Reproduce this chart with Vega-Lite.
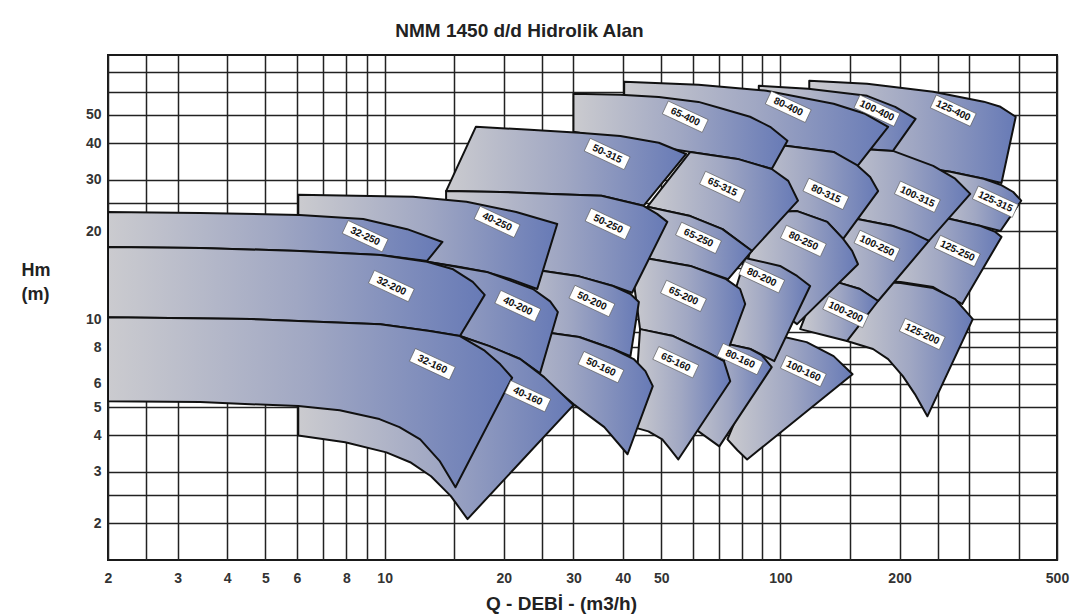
{
"$schema":"https://vega.github.io/schema/vega-lite/v6.json",
"width":949,"height":505,
"autosize":{"type":"none"},
"padding":{"left":108,"top":55,"right":16,"bottom":56},
"background":"#ffffff",
"config":{"view":{"stroke":"#1a1a1a","strokeWidth":2},"font":"Liberation Sans"},
"title":{"text":"NMM 1450 d/d Hidrolik Alan","fontSize":19,"fontWeight":"bold","color":"#222222","font":"Liberation Sans","anchor":"middle","frame":"group","dx":-63,"offset":-1,"baseline":"alphabetic"},
"datasets":{
"shapes":[
{"k":"s01","i":0,"q":118.3,"h":65.3},{"k":"s01","i":1,"q":165.6,"h":63.8},{"k":"s01","i":2,"q":243.3,"h":59.9},{"k":"s01","i":3,"q":326.4,"h":55.4},{"k":"s01","i":4,"q":359.8,"h":53.2},{"k":"s01","i":5,"q":393.3,"h":49.2},{"k":"s01","i":6,"q":362,"h":29.2},{"k":"s01","i":7,"q":326.4,"h":30.2},{"k":"s01","i":8,"q":268.7,"h":31.9},{"k":"s01","i":9,"q":201.3,"h":33.9},{"k":"s01","i":10,"q":118.3,"h":35.3},
{"k":"s02","i":0,"q":238.4,"h":32.6},{"k":"s02","i":1,"q":268.7,"h":31.9},{"k":"s02","i":2,"q":326.4,"h":30.2},{"k":"s02","i":3,"q":359.8,"h":28.8},{"k":"s02","i":4,"q":387.6,"h":27.2},{"k":"s02","i":5,"q":406,"h":25.4},{"k":"s02","i":6,"q":359.8,"h":20.0},{"k":"s02","i":7,"q":320.8,"h":20.8},{"k":"s02","i":8,"q":268.7,"h":22.0},{"k":"s02","i":9,"q":238.4,"h":22.5},
{"k":"s03","i":0,"q":238.4,"h":22.5},{"k":"s03","i":1,"q":268.7,"h":22.0},{"k":"s03","i":2,"q":320.8,"h":20.8},{"k":"s03","i":3,"q":349.2,"h":19.86},{"k":"s03","i":4,"q":362,"h":19.1},{"k":"s03","i":5,"q":288.1,"h":11.26},{"k":"s03","i":6,"q":243.3,"h":12.87},{"k":"s03","i":7,"q":201.3,"h":13.38},{"k":"s03","i":8,"q":178.3,"h":13.5},
{"k":"s04","i":0,"q":178.3,"h":13.38},{"k":"s04","i":1,"q":201.3,"h":13.29},{"k":"s04","i":2,"q":243.3,"h":12.77},{"k":"s04","i":3,"q":276.5,"h":11.7},{"k":"s04","i":4,"q":306.3,"h":10.0},{"k":"s04","i":5,"q":235.2,"h":4.65},{"k":"s04","i":6,"q":218.7,"h":5.54},{"k":"s04","i":7,"q":203.9,"h":6.38},{"k":"s04","i":8,"q":187.2,"h":7.3},{"k":"s04","i":9,"q":171.4,"h":7.9},{"k":"s04","i":10,"q":147.3,"h":8.41},
{"k":"s05","i":0,"q":88.2,"h":62.8},{"k":"s05","i":1,"q":117.6,"h":61.3},{"k":"s05","i":2,"q":165.6,"h":58.0},{"k":"s05","i":3,"q":195,"h":53.2},{"k":"s05","i":4,"q":219.6,"h":48.4},{"k":"s05","i":5,"q":192.5,"h":37.6},{"k":"s05","i":6,"q":158.9,"h":38.2},{"k":"s05","i":7,"q":109.1,"h":39.8},{"k":"s05","i":8,"q":88.2,"h":40.4},
{"k":"s06","i":0,"q":157.1,"h":38.2},{"k":"s06","i":1,"q":192.5,"h":37.6},{"k":"s06","i":2,"q":243.3,"h":33.4},{"k":"s06","i":3,"q":276.5,"h":30.2},{"k":"s06","i":4,"q":301.9,"h":26.8},{"k":"s06","i":5,"q":237.3,"h":18.5},{"k":"s06","i":6,"q":192.5,"h":20.8},{"k":"s06","i":7,"q":156.4,"h":22.0},{"k":"s06","i":8,"q":133.6,"h":22.5},
{"k":"s07","i":0,"q":133.6,"h":22.5},{"k":"s07","i":1,"q":156.4,"h":22.0},{"k":"s07","i":2,"q":192.5,"h":20.8},{"k":"s07","i":3,"q":212.9,"h":19.86},{"k":"s07","i":4,"q":237.3,"h":18.5},{"k":"s07","i":5,"q":176.6,"h":11.53},{"k":"s07","i":6,"q":158.9,"h":12.67},{"k":"s07","i":7,"q":139.1,"h":13.38},{"k":"s07","i":8,"q":125.6,"h":13.7},
{"k":"s08","i":0,"q":125.6,"h":13.7},{"k":"s08","i":1,"q":139.1,"h":13.38},{"k":"s08","i":2,"q":158.9,"h":12.67},{"k":"s08","i":3,"q":176.6,"h":11.53},{"k":"s08","i":4,"q":147.3,"h":8.41},{"k":"s08","i":5,"q":131.3,"h":8.75},{"k":"s08","i":6,"q":112.2,"h":9.24},
{"k":"s09","i":0,"q":89.7,"h":8.68},{"k":"s09","i":1,"q":99.8,"h":8.75},{"k":"s09","i":2,"q":116.5,"h":8.34},{"k":"s09","i":3,"q":136.3,"h":7.47},{"k":"s09","i":4,"q":152.2,"h":6.48},{"k":"s09","i":5,"q":82.4,"h":3.31},{"k":"s09","i":6,"q":77.9,"h":3.56},{"k":"s09","i":7,"q":73.5,"h":3.88},{"k":"s09","i":8,"q":87.1,"h":6.74},
{"k":"s10","i":0,"q":40.3,"h":64.8},{"k":"s10","i":1,"q":62.1,"h":63.3},{"k":"s10","i":2,"q":92.2,"h":60.4},{"k":"s10","i":3,"q":136.3,"h":54.5},{"k":"s10","i":4,"q":163.7,"h":50.35},{"k":"s10","i":5,"q":187.2,"h":45.45},{"k":"s10","i":6,"q":155.8,"h":33.1},{"k":"s10","i":7,"q":136.3,"h":37.3},{"k":"s10","i":8,"q":104.2,"h":39.1},{"k":"s10","i":9,"q":79.1,"h":40.4},{"k":"s10","i":10,"q":40.3,"h":42.3},
{"k":"s11","i":0,"q":79.1,"h":40.4},{"k":"s11","i":1,"q":104.2,"h":39.1},{"k":"s11","i":2,"q":136.3,"h":37.3},{"k":"s11","i":3,"q":155.8,"h":33.7},{"k":"s11","i":4,"q":168.6,"h":30.6},{"k":"s11","i":5,"q":176.6,"h":27.4},{"k":"s11","i":6,"q":144.1,"h":18.8},{"k":"s11","i":7,"q":131.3,"h":21.5},{"k":"s11","i":8,"q":110.2,"h":23.4},{"k":"s11","i":9,"q":88.2,"h":22.9},
{"k":"s12","i":0,"q":88.2,"h":23.07},{"k":"s12","i":1,"q":110.2,"h":23.4},{"k":"s12","i":2,"q":131.3,"h":21.5},{"k":"s12","i":3,"q":144.1,"h":18.8},{"k":"s12","i":4,"q":151.8,"h":17.1},{"k":"s12","i":5,"q":157.1,"h":15.4},{"k":"s12","i":6,"q":110.2,"h":9.61},{"k":"s12","i":7,"q":94.2,"h":11.26},{"k":"s12","i":8,"q":79.1,"h":12.18},
{"k":"s13","i":0,"q":81.5,"h":16.18},{"k":"s13","i":1,"q":99.8,"h":15.2},{"k":"s13","i":2,"q":110.2,"h":14.04},{"k":"s13","i":3,"q":118.9,"h":12.97},{"k":"s13","i":4,"q":96.5,"h":7.18},{"k":"s13","i":5,"q":84.0,"h":7.9},{"k":"s13","i":6,"q":70.1,"h":8.34},
{"k":"s14","i":0,"q":70.1,"h":8.34},{"k":"s14","i":1,"q":84.0,"h":7.9},{"k":"s14","i":2,"q":89.7,"h":7.53},{"k":"s14","i":3,"q":95.1,"h":6.85},{"k":"s14","i":4,"q":70.1,"h":3.67},{"k":"s14","i":5,"q":62.1,"h":4.13},{"k":"s14","i":6,"q":57.5,"h":4.55},{"k":"s14","i":7,"q":62.1,"h":8.54},
{"k":"s15","i":0,"q":30.0,"h":58.96},{"k":"s15","i":1,"q":39.4,"h":58.5},{"k":"s15","i":2,"q":49.3,"h":57.5},{"k":"s15","i":3,"q":62.1,"h":55.3},{"k":"s15","i":4,"q":71.4,"h":52.4},{"k":"s15","i":5,"q":83.8,"h":49.2},{"k":"s15","i":6,"q":94.2,"h":45.45},{"k":"s15","i":7,"q":104.2,"h":40.7},{"k":"s15","i":8,"q":95.1,"h":32.6},{"k":"s15","i":9,"q":77.9,"h":35.3},{"k":"s15","i":10,"q":59.2,"h":37.3},{"k":"s15","i":11,"q":44.2,"h":39.76},{"k":"s15","i":12,"q":30.0,"h":43.7},
{"k":"s16","i":0,"q":59.2,"h":37.3},{"k":"s16","i":1,"q":77.9,"h":35.3},{"k":"s16","i":2,"q":95.1,"h":32.6},{"k":"s16","i":3,"q":104.7,"h":29.7},{"k":"s16","i":4,"q":110.8,"h":25.4},{"k":"s16","i":5,"q":84.8,"h":17.1},{"k":"s16","i":6,"q":71.4,"h":20.3},{"k":"s16","i":7,"q":59.2,"h":22.5},{"k":"s16","i":8,"q":46.1,"h":24.2},
{"k":"s17","i":0,"q":46.1,"h":24.2},{"k":"s17","i":1,"q":59.2,"h":22.5},{"k":"s17","i":2,"q":71.4,"h":20.3},{"k":"s17","i":3,"q":84.8,"h":17.1},{"k":"s17","i":4,"q":73.8,"h":13.7},{"k":"s17","i":5,"q":59.2,"h":15.2},{"k":"s17","i":6,"q":47.0,"h":16.05},{"k":"s17","i":7,"q":41.8,"h":16.3},
{"k":"s18","i":0,"q":41.8,"h":16.3},{"k":"s18","i":1,"q":47.0,"h":16.05},{"k":"s18","i":2,"q":59.2,"h":15.2},{"k":"s18","i":3,"q":72.9,"h":13.7},{"k":"s18","i":4,"q":79.1,"h":12.67},{"k":"s18","i":5,"q":81.5,"h":11.26},{"k":"s18","i":6,"q":72.0,"h":7.18},{"k":"s18","i":7,"q":65.3,"h":7.71},{"k":"s18","i":8,"q":53.6,"h":8.75},{"k":"s18","i":9,"q":44.2,"h":9.24},
{"k":"s19","i":0,"q":44.2,"h":9.24},{"k":"s19","i":1,"q":53.6,"h":8.75},{"k":"s19","i":2,"q":65.3,"h":7.71},{"k":"s19","i":3,"q":72.0,"h":7.18},{"k":"s19","i":4,"q":74.7,"h":6.13},{"k":"s19","i":5,"q":55.2,"h":3.31},{"k":"s19","i":6,"q":52.5,"h":3.61},{"k":"s19","i":7,"q":50.3,"h":3.88},{"k":"s19","i":8,"q":46.4,"h":4.13},{"k":"s19","i":9,"q":42.5,"h":4.27},
{"k":"s20","i":0,"q":17.0,"h":45.45},{"k":"s20","i":1,"q":23.3,"h":44.4},{"k":"s20","i":2,"q":31.0,"h":43.4},{"k":"s20","i":3,"q":39.4,"h":42.3},{"k":"s20","i":4,"q":49.3,"h":40.1},{"k":"s20","i":5,"q":57.8,"h":36.7},{"k":"s20","i":6,"q":45.1,"h":24.4},{"k":"s20","i":7,"q":35.3,"h":26.4},{"k":"s20","i":8,"q":26.4,"h":26.8},{"k":"s20","i":9,"q":19.6,"h":27.2},{"k":"s20","i":10,"q":14.3,"h":27.4},
{"k":"s21","i":0,"q":14.3,"h":27.4},{"k":"s21","i":1,"q":19.6,"h":27.2},{"k":"s21","i":2,"q":26.4,"h":26.8},{"k":"s21","i":3,"q":35.3,"h":26.4},{"k":"s21","i":4,"q":45.1,"h":24.4},{"k":"s21","i":5,"q":48.8,"h":22.9},{"k":"s21","i":6,"q":51.8,"h":21.5},{"k":"s21","i":7,"q":42.2,"h":12.3},{"k":"s21","i":8,"q":37.8,"h":12.97},{"k":"s21","i":9,"q":31.0,"h":14.0},{"k":"s21","i":10,"q":25.2,"h":14.6},{"k":"s21","i":11,"q":19.6,"h":15.07},{"k":"s21","i":12,"q":14.3,"h":15.4},
{"k":"s22","i":0,"q":19.6,"h":15.07},{"k":"s22","i":1,"q":25.2,"h":14.6},{"k":"s22","i":2,"q":31.0,"h":14.0},{"k":"s22","i":3,"q":37.8,"h":12.97},{"k":"s22","i":4,"q":41.8,"h":12.18},{"k":"s22","i":5,"q":43.9,"h":11.44},{"k":"s22","i":6,"q":41.8,"h":7.47},{"k":"s22","i":7,"q":37.8,"h":7.9},{"k":"s22","i":8,"q":31.0,"h":8.68},{"k":"s22","i":9,"q":25.2,"h":9.03},{"k":"s22","i":10,"q":19.6,"h":9.24},
{"k":"s23","i":0,"q":19.6,"h":9.24},{"k":"s23","i":1,"q":25.2,"h":9.03},{"k":"s23","i":2,"q":31.0,"h":8.68},{"k":"s23","i":3,"q":37.8,"h":7.9},{"k":"s23","i":4,"q":42.6,"h":7.3},{"k":"s23","i":5,"q":45.6,"h":6.64},{"k":"s23","i":6,"q":47.6,"h":5.9},{"k":"s23","i":7,"q":41.1,"h":3.45},{"k":"s23","i":8,"q":35.9,"h":4.27},{"k":"s23","i":9,"q":30.0,"h":5.12},{"k":"s23","i":10,"q":25.3,"h":6.23},{"k":"s23","i":11,"q":21.4,"h":7.18},{"k":"s23","i":12,"q":17.4,"h":8.21},
{"k":"s24","i":0,"q":6.05,"h":26.6},{"k":"s24","i":1,"q":11.8,"h":26.2},{"k":"s24","i":2,"q":16.1,"h":25.2},{"k":"s24","i":3,"q":21.5,"h":23.25},{"k":"s24","i":4,"q":27.3,"h":21.15},{"k":"s24","i":5,"q":24.3,"h":12.67},{"k":"s24","i":6,"q":20.8,"h":13.7},{"k":"s24","i":7,"q":18.1,"h":14.5},{"k":"s24","i":8,"q":15.5,"h":15.07},{"k":"s24","i":9,"q":12.8,"h":15.7},{"k":"s24","i":10,"q":9.75,"h":16.57},{"k":"s24","i":11,"q":6.05,"h":17.1},
{"k":"s25","i":0,"q":6.05,"h":17.1},{"k":"s25","i":1,"q":9.75,"h":16.57},{"k":"s25","i":2,"q":12.8,"h":15.7},{"k":"s25","i":3,"q":18.1,"h":14.5},{"k":"s25","i":4,"q":23.7,"h":12.67},{"k":"s25","i":5,"q":26.2,"h":11.5},{"k":"s25","i":6,"q":27.4,"h":10.57},{"k":"s25","i":7,"q":24.7,"h":6.53},{"k":"s25","i":8,"q":22.0,"h":7.3},{"k":"s25","i":9,"q":18.4,"h":8.08},{"k":"s25","i":10,"q":15.5,"h":8.75},{"k":"s25","i":11,"q":9.75,"h":9.54},{"k":"s25","i":12,"q":6.05,"h":9.84},
{"k":"s26","i":0,"q":6.05,"h":9.84},{"k":"s26","i":1,"q":9.75,"h":9.54},{"k":"s26","i":2,"q":15.5,"h":8.75},{"k":"s26","i":3,"q":18.4,"h":8.08},{"k":"s26","i":4,"q":22.0,"h":7.3},{"k":"s26","i":5,"q":25.3,"h":6.33},{"k":"s26","i":6,"q":30.0,"h":5.08},{"k":"s26","i":7,"q":16.2,"h":2.07},{"k":"s26","i":8,"q":14.7,"h":2.48},{"k":"s26","i":9,"q":13.1,"h":2.9},{"k":"s26","i":10,"q":11.6,"h":3.24},{"k":"s26","i":11,"q":10.1,"h":3.5},{"k":"s26","i":12,"q":7.95,"h":3.79},{"k":"s26","i":13,"q":6.05,"h":4.0},
{"k":"s27","i":0,"q":2,"h":23.25},{"k":"s27","i":1,"q":3.42,"h":23.07},{"k":"s27","i":2,"q":6.1,"h":22.7},{"k":"s27","i":3,"q":8.83,"h":22.0},{"k":"s27","i":4,"q":11.4,"h":20.3},{"k":"s27","i":5,"q":14.0,"h":18.35},{"k":"s27","i":6,"q":12.8,"h":15.8},{"k":"s27","i":7,"q":9.75,"h":16.57},{"k":"s27","i":8,"q":6.1,"h":17.1},{"k":"s27","i":9,"q":3.42,"h":17.5},{"k":"s27","i":10,"q":2,"h":17.65},
{"k":"s28","i":0,"q":2,"h":17.65},{"k":"s28","i":1,"q":3.42,"h":17.5},{"k":"s28","i":2,"q":6.1,"h":17.1},{"k":"s28","i":3,"q":9.75,"h":16.57},{"k":"s28","i":4,"q":12.8,"h":15.7},{"k":"s28","i":5,"q":14.9,"h":14.8},{"k":"s28","i":6,"q":16.7,"h":13.4},{"k":"s28","i":7,"q":17.9,"h":12.1},{"k":"s28","i":8,"q":15.5,"h":8.75},{"k":"s28","i":9,"q":13.0,"h":9.1},{"k":"s28","i":10,"q":9.75,"h":9.6},{"k":"s28","i":11,"q":4.57,"h":10.0},{"k":"s28","i":12,"q":2,"h":10.15},
{"k":"s29","i":0,"q":2,"h":10.15},{"k":"s29","i":1,"q":4.6,"h":10.0},{"k":"s29","i":2,"q":9.75,"h":9.6},{"k":"s29","i":3,"q":13.0,"h":9.1},{"k":"s29","i":4,"q":15.5,"h":8.75},{"k":"s29","i":5,"q":17.9,"h":7.8},{"k":"s29","i":6,"q":19.6,"h":7.0},{"k":"s29","i":7,"q":21.0,"h":6.3},{"k":"s29","i":8,"q":15.1,"h":2.66},{"k":"s29","i":9,"q":13.8,"h":3.26},{"k":"s29","i":10,"q":12.3,"h":3.88},{"k":"s29","i":11,"q":10.9,"h":4.27},{"k":"s29","i":12,"q":9.7,"h":4.55},{"k":"s29","i":13,"q":7.7,"h":4.88},{"k":"s29","i":14,"q":6.05,"h":5.04},{"k":"s29","i":15,"q":3.42,"h":5.2},{"k":"s29","i":16,"q":2,"h":5.24}
],
"labels":[
{"t":"32-250","q":8.93,"h":19.2},{"t":"40-250","q":19.24,"h":21.5},{"t":"32-200","q":10.4,"h":12.97},{"t":"40-200","q":21.7,"h":11.08},{"t":"32-160","q":13.2,"h":7.01},{"t":"40-160","q":23.0,"h":5.45},
{"t":"50-315","q":36.5,"h":36.7},{"t":"50-250","q":36.7,"h":21.15},{"t":"50-200","q":33.4,"h":11.53},{"t":"50-160","q":35.2,"h":6.85},
{"t":"65-400","q":57.5,"h":49.2},{"t":"65-315","q":71.4,"h":28.3},{"t":"65-250","q":62.1,"h":18.95},{"t":"65-200","q":56.9,"h":12.0},{"t":"65-160","q":54.4,"h":7.12},
{"t":"80-400","q":104.7,"h":53.2},{"t":"80-315","q":130.3,"h":26.8},{"t":"80-250","q":114.3,"h":18.5},{"t":"80-200","q":89.7,"h":13.9},{"t":"80-160","q":79.1,"h":7.3},
{"t":"100-400","q":175.4,"h":51.6},{"t":"100-315","q":221.9,"h":26.2},{"t":"100-250","q":175.4,"h":17.8},{"t":"100-200","q":146.2,"h":10.57},{"t":"100-160","q":114.3,"h":6.64},
{"t":"125-400","q":273.4,"h":51.6},{"t":"125-315","q":349.2,"h":25.2},{"t":"125-250","q":280,"h":17.1},{"t":"125-200","q":228.3,"h":8.89}
]
},
"layer":[
{"data":{"name":"shapes"},
 "mark":{"type":"line","interpolate":"linear-closed","fill":{"gradient":"linear","x1":0,"y1":0.5,"x2":1,"y2":0.5,"stops":[{"offset":0,"color":"#cbcbcf"},{"offset":0.5,"color":"#a0a7c3"},{"offset":1,"color":"#677ab6"}]},"stroke":"#111111","strokeWidth":2,"strokeJoin":"round","clip":true},
 "encoding":{
  "x":{"field":"q","type":"quantitative","scale":{"type":"log","domain":[2,500],"nice":false},
   "axis":{"values":[2,2.5,3,4,5,6,7,8,9,10,15,20,25,30,40,50,60,70,80,90,100,150,200,250,300,400,500],
    "labelExpr":"indexof([2,3,4,5,6,8,10,20,30,40,50,100,200,500], datum.value) >= 0 ? '' + datum.value : ''",
    "grid":true,"gridColor":"#222222","gridWidth":1.5,"gridOpacity":1,"ticks":false,"domain":false,
    "labelFont":"Liberation Sans","labelFontSize":14,"labelFontWeight":"bold","labelColor":"#333333","labelPadding":11,"labelFlush":false,"labelOverlap":false,"labelBound":false,
    "title":"Q - DEBİ - (m3/h)","titleFont":"Liberation Sans","titleFontSize":19,"titleFontWeight":"bold","titleColor":"#222222","titleX":453,"titleY":49,"titleAlign":"center","titleBaseline":"alphabetic"}},
  "y":{"field":"h","type":"quantitative","scale":{"type":"log","domain":[1.5,80],"nice":false},
   "axis":{"values":[2,2.5,3,4,5,6,7,8,9,10,15,20,25,30,40,50,60,70],
    "labelExpr":"indexof([2,3,4,5,6,8,10,20,30,40,50], datum.value) >= 0 ? '' + datum.value : ''",
    "grid":true,"gridColor":"#222222","gridWidth":1.5,"gridOpacity":1,"ticks":false,"domain":false,
    "labelFont":"Liberation Sans","labelFontSize":14,"labelFontWeight":"bold","labelColor":"#333333","labelPadding":7,"labelOverlap":false,"labelFlush":false,"labelBound":false,
    "title":["Hm","(m)"],"titleAngle":0,"titleAlign":"left","titleBaseline":"top","titleX":-87,"titleY":206,"titleLineHeight":24,"titleFont":"Liberation Sans","titleFontSize":18,"titleFontWeight":"bold","titleColor":"#222222"}},
  "detail":{"field":"k","type":"nominal"},
  "order":{"field":"i","type":"quantitative"}
 }},
{"data":{"name":"labels"},
 "mark":{"type":"point","shape":"M-1,-0.32L1,-0.32L1,0.32L-1,0.32Z","angle":25,"size":1936,"filled":true,"fill":"#ffffff","stroke":"#555555","strokeWidth":0.6,"opacity":1},
 "encoding":{"x":{"field":"q","type":"quantitative"},"y":{"field":"h","type":"quantitative"}}},
{"data":{"name":"labels"},
 "mark":{"type":"text","angle":25,"font":"Liberation Sans","fontWeight":"bold","fontSize":10,"color":"#111111","align":"center","baseline":"middle"},
 "encoding":{"x":{"field":"q","type":"quantitative"},"y":{"field":"h","type":"quantitative"},"text":{"field":"t","type":"nominal"}}}
]
}
